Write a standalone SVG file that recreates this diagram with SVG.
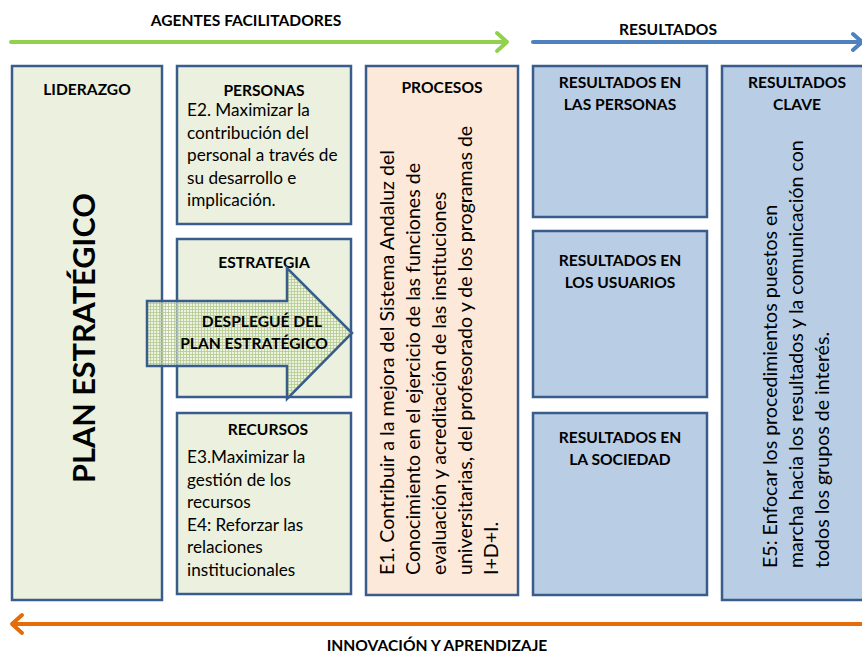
<svg xmlns="http://www.w3.org/2000/svg" width="862" height="653" viewBox="0 0 862 653">
<style>
  .box { stroke: #385D8A; stroke-width: 2.5; }
  .green { fill: #EBF1DE; }
  .peach { fill: #FDE9D9; }
  .blue { fill: #B9CDE5; }
  text { font-family: "Lato", "Open Sans", sans-serif; fill: #000; }
  .h { font-weight: bold; font-size: 15.6px; text-anchor: middle; }
  .t { font-size: 17.2px; }
  .v { font-size: 19.6px; }
  .big { font-weight: bold; font-size: 30.6px; text-anchor: middle; }
  .flow { fill: none; stroke-width: 4; stroke-linecap: round; stroke-linejoin: round; }
</style>
<defs>
  <pattern id="mesh" width="3" height="3" patternUnits="userSpaceOnUse">
    <rect width="3" height="3" fill="#EEF3E2" fill-opacity="0.5"/>
    <rect width="3" height="1" fill="#B3C78C" fill-opacity="0.75"/>
    <rect width="1" height="3" fill="#B3C78C" fill-opacity="0.75"/>
  </pattern>
</defs>

<g id="connectors">
  <g id="flow-agentes">
    <line class="flow" x1="11" y1="42" x2="506" y2="42" stroke="#92D050"/>
    <polyline class="flow" points="497,33 507,42 497,51" stroke="#92D050"/>
  </g>
  <g id="flow-resultados">
    <line class="flow" x1="533" y1="42" x2="862" y2="42" stroke="#4F81BD"/>
    <polyline class="flow" points="853,34 862,42 853,50" stroke="#4F81BD"/>
  </g>
  <g id="flow-innovacion">
    <line class="flow" x1="13" y1="624" x2="862" y2="624" stroke="#E46C0A"/>
    <polyline class="flow" points="22,615 12,624 22,633" stroke="#E46C0A"/>
  </g>
</g>

<text class="h" x="246" y="26">AGENTES FACILITADORES</text>
<text class="h" x="668" y="35">RESULTADOS</text>
<text class="h" x="437" y="651">INNOVACIÓN Y APRENDIZAJE</text>

<g id="liderazgo">
  <rect class="box green" x="12" y="66" width="150" height="534"/>
  <text class="h" x="87" y="95">LIDERAZGO</text>
  <text class="big" transform="translate(95,338) rotate(-90)">PLAN ESTRATÉGICO</text>
</g>

<g id="personas">
  <rect class="box green" x="177" y="66" width="174" height="158"/>
  <text class="h" x="264" y="96">PERSONAS</text>
  <text class="t" x="187" y="116">E2. Maximizar la</text>
  <text class="t" x="187" y="138.5">contribución del</text>
  <text class="t" x="187" y="161">personal a través de</text>
  <text class="t" x="187" y="183.5">su desarrollo e</text>
  <text class="t" x="187" y="206">implicación.</text>
</g>

<g id="estrategia">
  <rect class="box green" x="177" y="239" width="174" height="158"/>
  <text class="h" x="264" y="268">ESTRATEGIA</text>
</g>

<g id="recursos">
  <rect class="box green" x="177" y="413" width="174" height="181"/>
  <text class="h" x="268" y="435">RECURSOS</text>
  <text class="t" x="187" y="463">E3.Maximizar la</text>
  <text class="t" x="187" y="486">gestión de los</text>
  <text class="t" x="187" y="508">recursos</text>
  <text class="t" x="187" y="531">E4: Reforzar las</text>
  <text class="t" x="187" y="553">relaciones</text>
  <text class="t" x="187" y="576">institucionales</text>
</g>

<g id="despliegue">
  <polygon points="147,301 287,301 287,268 352,333 287,399 287,366 147,366" fill="url(#mesh)" stroke="#385D8A" stroke-width="2.5" stroke-linejoin="miter"/>
  <text class="h" x="262" y="327">DESPLEGUÉ DEL</text>
  <text class="h" x="254" y="349">PLAN ESTRATÉGICO</text>
</g>

<g id="procesos">
  <rect class="box peach" x="366" y="66" width="152" height="529"/>
  <text class="h" x="442" y="93">PROCESOS</text>
  <text class="v" transform="translate(394,575) rotate(-90)">E1. Contribuir a la mejora del Sistema Andaluz del</text>
  <text class="v" transform="translate(420,575) rotate(-90)">Conocimiento en el ejercicio de las funciones de</text>
  <text class="v" transform="translate(446,575) rotate(-90)">evaluación y acreditación de las instituciones</text>
  <text class="v" transform="translate(472,575) rotate(-90)">universitarias, del profesorado y de los programas de</text>
  <text class="v" transform="translate(498,575) rotate(-90)">I+D+I.</text>
</g>

<g id="res-personas">
  <rect class="box blue" x="533" y="66" width="174" height="151"/>
  <text class="h" x="620" y="88">RESULTADOS EN</text>
  <text class="h" x="620" y="110">LAS PERSONAS</text>
</g>

<g id="res-usuarios">
  <rect class="box blue" x="533" y="231" width="174" height="166"/>
  <text class="h" x="620" y="266">RESULTADOS EN</text>
  <text class="h" x="620" y="288">LOS USUARIOS</text>
</g>

<g id="res-sociedad">
  <rect class="box blue" x="533" y="413" width="174" height="182"/>
  <text class="h" x="620" y="443">RESULTADOS EN</text>
  <text class="h" x="620" y="465">LA SOCIEDAD</text>
</g>

<g id="res-clave">
  <rect class="box blue" x="722" y="66" width="151" height="534"/>
  <text class="h" x="797" y="88">RESULTADOS</text>
  <text class="h" x="797" y="110">CLAVE</text>
  <text class="v" transform="translate(777,568) rotate(-90)">E5: Enfocar los procedimientos puestos en</text>
  <text class="v" transform="translate(803,568) rotate(-90)">marcha hacia los resultados y la comunicación con</text>
  <text class="v" transform="translate(829,568) rotate(-90)">todos los grupos de interés.</text>
</g>
</svg>
